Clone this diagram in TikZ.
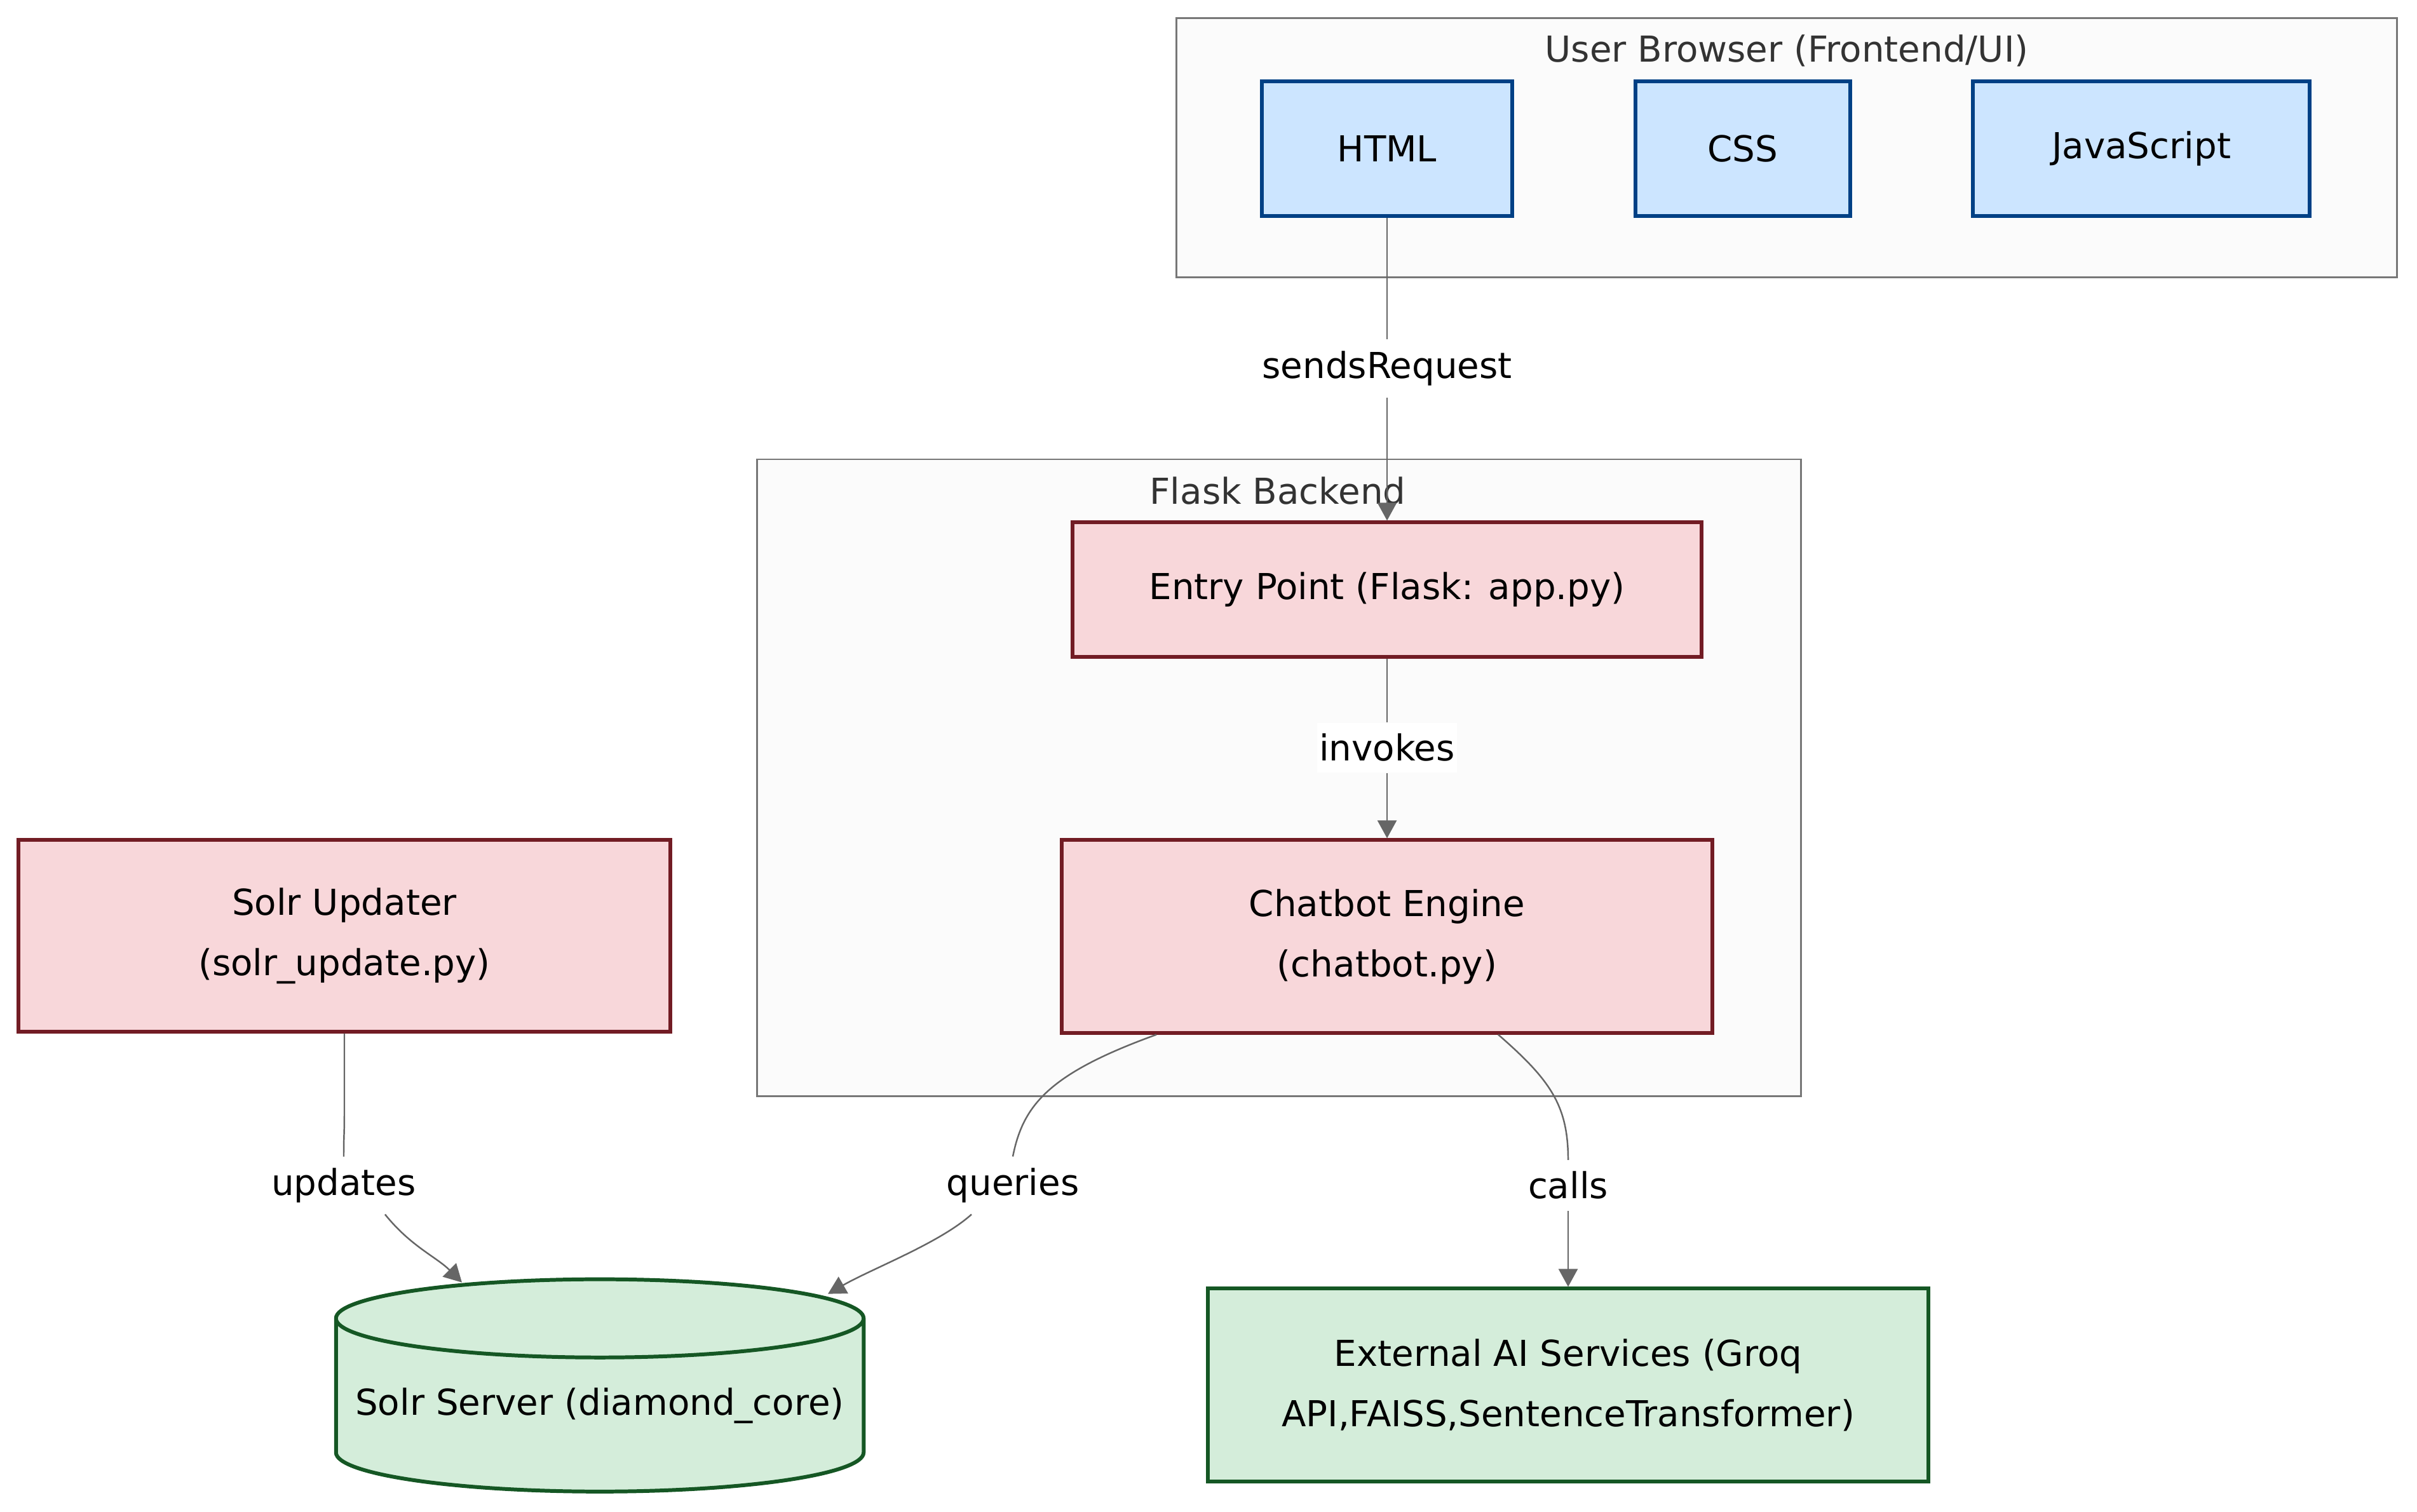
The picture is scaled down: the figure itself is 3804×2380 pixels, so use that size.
\documentclass[tikz,border=0pt]{standalone}
\usepackage{fontspec}
\setmainfont{DejaVu Sans}
\usetikzlibrary{arrows.meta,calc,shapes.geometric}
\definecolor{uiFill}{HTML}{CCE5FF}
\definecolor{uiLine}{HTML}{004085}
\definecolor{beFill}{HTML}{F8D7DA}
\definecolor{beLine}{HTML}{721C24}
\definecolor{exFill}{HTML}{D4EDDA}
\definecolor{exLine}{HTML}{155724}
\definecolor{grpFill}{HTML}{FBFBFB}
\definecolor{grpLine}{HTML}{777777}
\definecolor{edgeCol}{HTML}{666666}
\tikzset{
  box/.style={draw, line width=1.7pt, inner sep=0pt, align=center, font=\fontsize{16}{27}\selectfont},
  uibox/.style={box, fill=uiFill, draw=uiLine, minimum height=2.11cm},
  bebox/.style={box, fill=beFill, draw=beLine},
  exbox/.style={box, fill=exFill, draw=exLine},
  group/.style={draw=grpLine, fill=grpFill, line width=0.85pt},
  grouptitle/.style={text=black!80, font=\fontsize{16}{19}\selectfont},
  flow/.style={draw=edgeCol, line width=0.7pt},
  arr/.style={flow, -{Triangle[length=0.28cm,width=0.3cm]}},
  elabel/.style={fill=white, inner xsep=1pt, inner ysep=5pt, font=\fontsize{16}{19}\selectfont},
}
\begin{document}
\begin{tikzpicture}[x=0.01cm, y=-0.01cm]
			\useasboundingbox (0,0) rectangle (3804,2380);
			
			%%%%% GROUPS %%%%%
			\draw[group] (1851,29) rectangle (3772,437);
			\node[grouptitle] (uiTitle) at (2812,80) {User Browser (Frontend/UI)};
			\draw[group] (1191,723) rectangle (2834,1725);
			\node[grouptitle] (beTitle) at (2011,773) {Flask Backend};
			
			%%%%% NODES %%%%%
			\node[uibox, minimum width=3.93cm] (html) at (2183,234) {HTML};
			\node[uibox, minimum width=3.37cm] (css) at (2743,234) {CSS};
			\node[uibox, minimum width=5.29cm] (js) at (3370,234) {JavaScript};
			
			\node[bebox, minimum width=9.89cm, minimum height=2.11cm] (entry) at (2183,928) {Entry Point (Flask: app.py)};
			\node[bebox, minimum width=10.24cm, minimum height=3.03cm] (chat) at (2183,1474) {Chatbot Engine\\(chatbot.py)};
			\node[bebox, minimum width=10.26cm, minimum height=3.01cm] (upd) at (542,1473) {Solr Updater\\(solr\_update.py)};
			
			\node[exbox, cylinder, shape border rotate=90, aspect=0.16, minimum width=8.3cm, minimum height=3.34cm] (solr) at (944,2213) {Solr Server (diamond\_core)};
			\node[exbox, minimum width=11.33cm, minimum height=3.03cm] (ext) at (2468,2180) {External AI Services (Groq\\API,FAISS,SentenceTransformer)};
			
			%%%%% EDGE LABELS %%%%%
			\node[elabel] (lSend) at (2183,580) {sendsRequest};
			\node[elabel] (lInv) at (2183,1177) {invokes};
			\node[elabel] (lUpd) at (541,1866) {updates};
			\node[elabel] (lQry) at (1594,1866) {queries};
			\node[elabel] (lCall) at (2468,1866) {calls};
			
			%%%%% EDGES %%%%%
			\draw[flow] (html) -- (lSend);
			\draw[arr] (lSend) -- (entry);
			\draw[flow] (entry) -- (lInv);
			\draw[arr] (lInv) -- (chat);
			
			\draw[flow] (upd.south) -- ++(0,117) .. controls +(0,50) and +(0,-40) .. (lUpd.north);
			\draw[arr] (lUpd.-35) .. controls +(40,50) and +(-40,-40) .. ($(solr.north)+(-217,8)$);
			
			\draw[flow] ($(chat.south)+(-363,0)$) .. controls (1650,1690) and (1610,1740) .. (lQry.north);
			\draw[arr] (lQry.-145) .. controls +(-50,45) and +(70,-40) .. ($(solr.north)+(359,26)$);
			
			\draw[flow] ($(chat.south)+(175,0)$) .. controls (2440,1700) and (2468,1740) .. (lCall.north);
			\draw[arr] (lCall) -- (ext);
			
\end{tikzpicture}
\end{document}
